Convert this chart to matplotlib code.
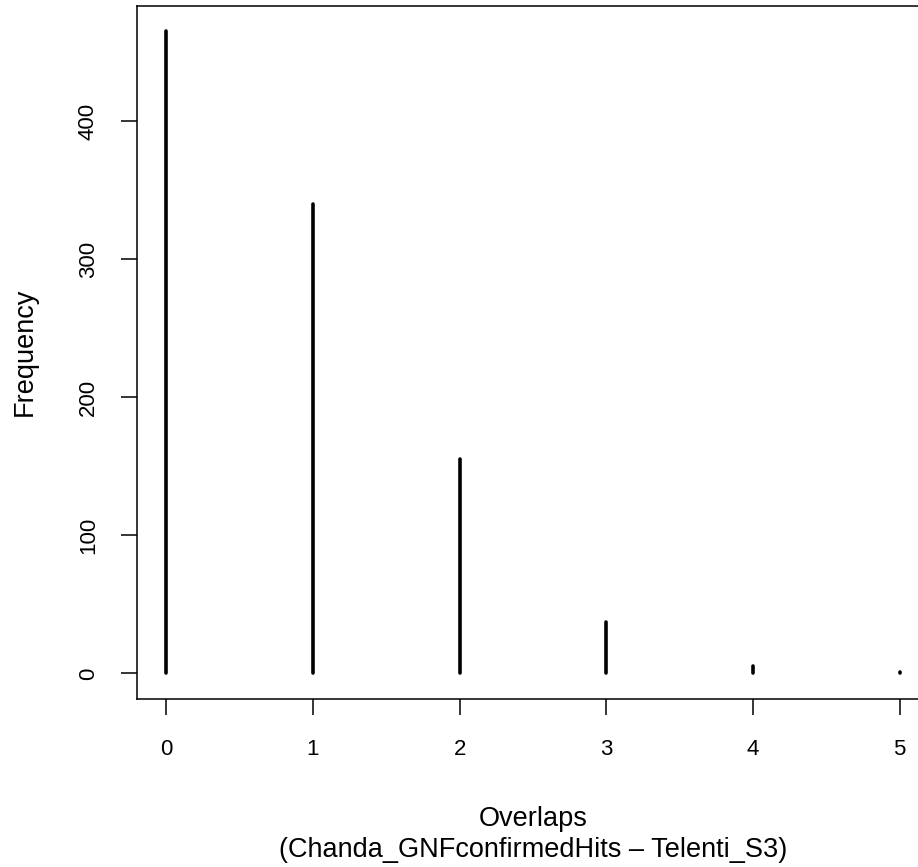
import matplotlib
matplotlib.use("Agg")
import matplotlib.pyplot as plt

# counts of overlaps (Chanda_GNFconfirmedHits - Telenti_S3)
overlaps = [0, 1, 2, 3, 4, 5]
frequency = [465, 340, 155, 37, 5, 1]

plt.rcParams['font.family'] = ['Liberation Sans', 'DejaVu Sans']

W, H = 918, 867
fig = plt.figure(figsize=(W / 100, H / 100), dpi=100)

# plot region runs past the right edge like the original (cropped R device)
left, right, top, bottom = 137, 929, 5.5, 699
ax = fig.add_axes([left / W, 1 - bottom / H, (right - left) / W, (bottom - top) / H])

ax.vlines(overlaps, 0, frequency, colors='black', linewidth=2.6, capstyle='round')

ax.set_xlim(-0.2, 5.2)
ax.set_ylim(-0.04 * max(frequency), 1.04 * max(frequency))

for s in ax.spines.values():
    s.set_linewidth(1.1)
ax.spines['right'].set_visible(False)

ax.set_xticks(overlaps)
ax.set_yticks([0, 100, 200, 300, 400])
ax.tick_params(axis='both', direction='out', length=11.5, width=1.1, labelsize=16)
ax.tick_params(axis='x', pad=17.5)
ax.tick_params(axis='y', pad=16, labelrotation=90)
for lab in ax.get_yticklabels():
    lab.set_va('center')

# axis titles (bigger than the tick labels, like cex.lab in the original)
fig.text(533 / W, 1 - 826 / H, "Overlaps", ha='center', va='baseline', fontsize=19.5)
fig.text(533 / W, 1 - 857 / H, "(Chanda_GNFconfirmedHits \u2013 Telenti_S3)",
         ha='center', va='baseline', fontsize=19.5)
fig.text(32 / W, 1 - 352 / H, "Frequency", ha='center', va='baseline',
         rotation=90, rotation_mode='anchor', fontsize=19.5)

fig.savefig("out.png", dpi=100)
